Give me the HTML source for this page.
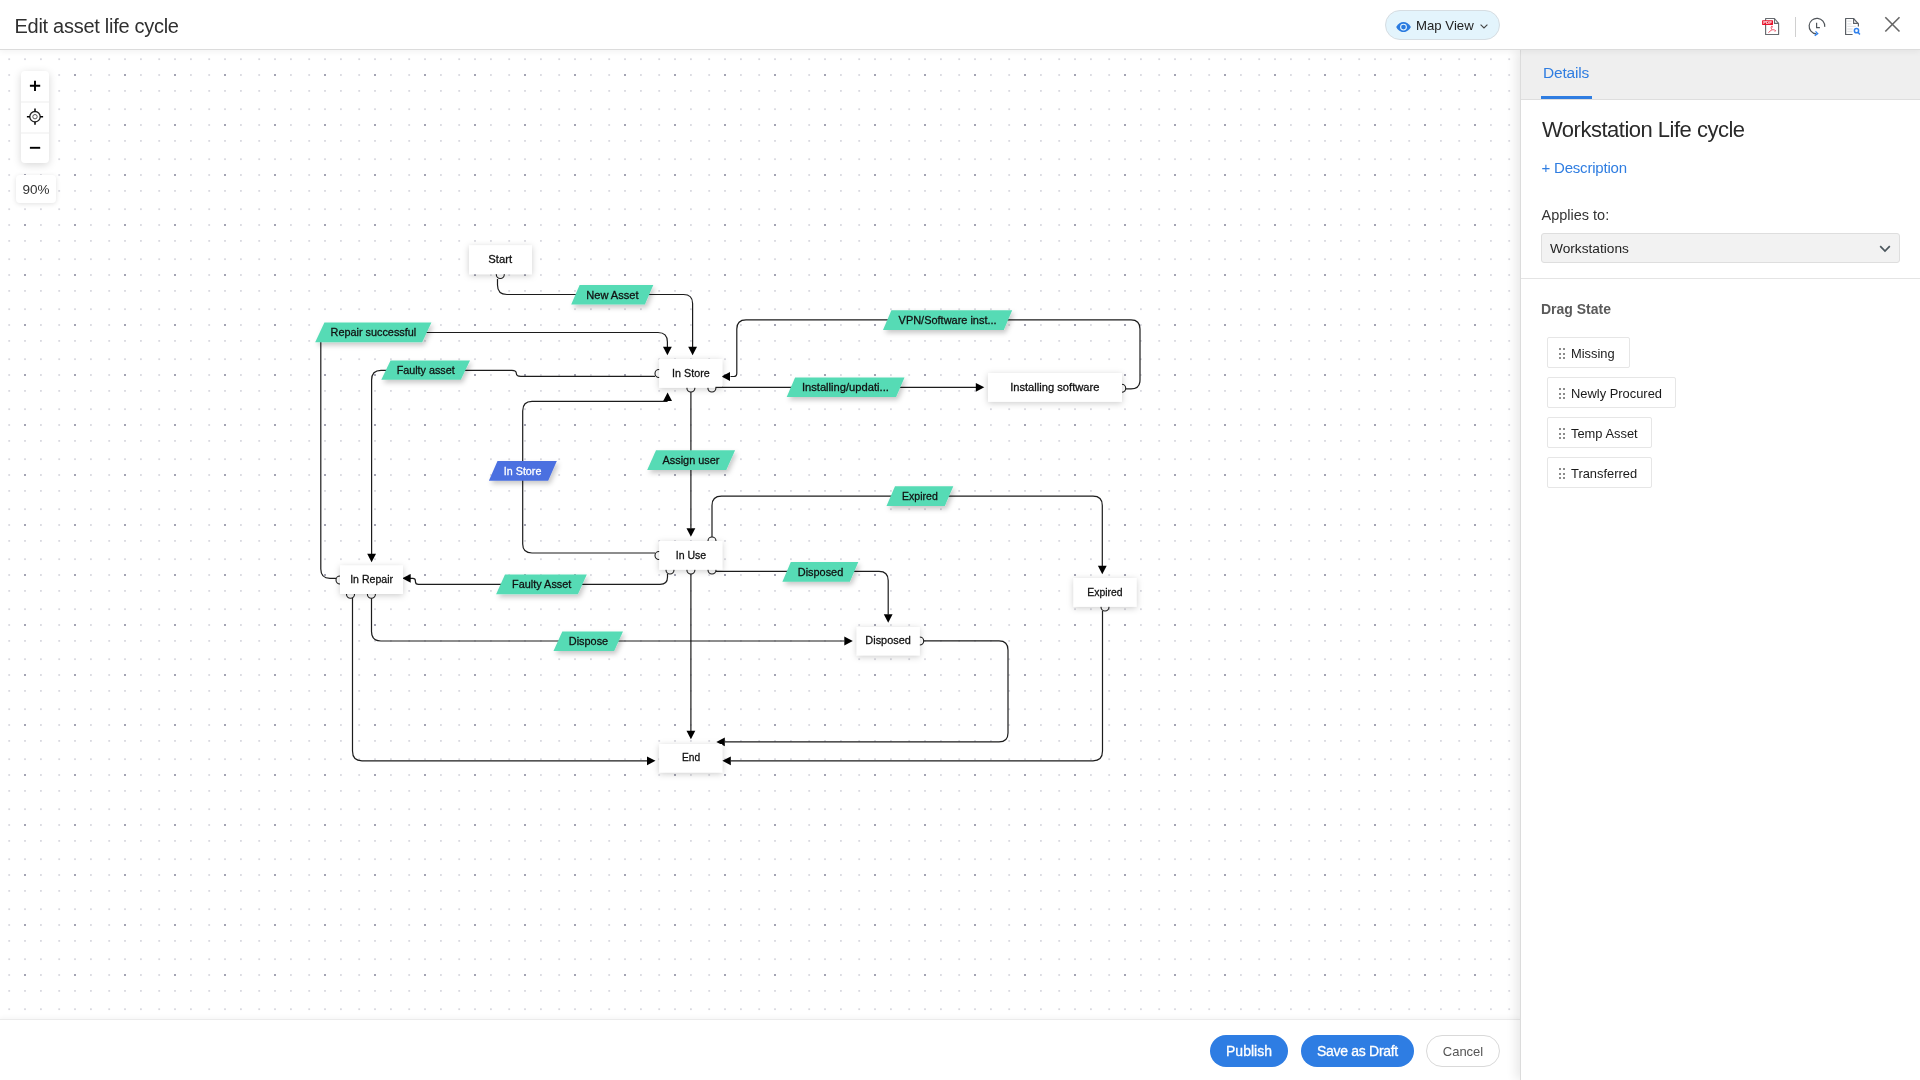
<!DOCTYPE html><html><head><meta charset="utf-8"><title>Edit asset life cycle</title><style>
*{margin:0;padding:0;box-sizing:border-box}
html,body{width:1920px;height:1080px;overflow:hidden;background:#fff;font-family:"Liberation Sans",sans-serif;color:#333}
.abs{position:absolute}
#header{position:absolute;left:0;top:0;width:1920px;height:50px;background:#fff;border-bottom:1px solid #dcdcdc;z-index:5;box-shadow:0 2px 6px rgba(0,0,0,0.05)}
#title{position:absolute;left:14.5px;top:11.5px;font-size:20px;letter-spacing:-0.28px;color:#303030;line-height:28px;white-space:nowrap}
#mapview{position:absolute;left:1385px;top:10px;width:115px;height:30px;border-radius:15px;background:#e3f4fc;border:1px solid #d6dde2}
#mapview span{position:absolute;left:30px;top:7px;font-size:13.2px;color:#222;line-height:16px;white-space:nowrap}
#canvas{position:absolute;left:0;top:50px;width:1520px;height:969px;overflow:hidden}
#canvas svg.grid{position:absolute;left:0;top:-50px}
.dg{position:absolute;left:0;top:-50px;will-change:transform}
#footer{position:absolute;left:0;top:1019px;width:1520px;height:61px;background:#fff;border-top:1px solid #ebebeb;box-shadow:0 -2px 4px rgba(0,0,0,0.035)}
.btn{position:absolute;top:15px;height:32px;border-radius:16px;font-size:13px;line-height:32px;text-align:center;white-space:nowrap}
.btn.pri{background:#2e7de3;color:#fff;font-size:14px;line-height:33px;-webkit-text-stroke:0.3px #fff}
.btn.sec{background:#fff;border:1px solid #d9d9d9;color:#555;font-size:13px;line-height:31.5px}
#panel{position:absolute;left:1520px;top:50px;width:400px;height:1030px;background:#fff;border-left:1px solid #dcdcdc;box-shadow:-4px 0 10px rgba(0,0,0,0.09);z-index:4}
#tabs{position:absolute;left:0;top:0;width:400px;height:50px;background:#efefef;border-bottom:1px solid #dedede}
#tabs .t{position:absolute;left:22px;top:13px;font-size:15.5px;color:#2f7de1;line-height:20px;letter-spacing:-0.2px}
#tabs .u{position:absolute;left:20px;top:46px;width:51px;height:3px;background:#2f7de1}
#zoomctl{position:absolute;left:21px;top:21px;width:28px;height:92px;background:#fff;border-radius:4px;box-shadow:0 2px 9px rgba(0,0,0,0.16)}
#zoompct{position:absolute;left:16px;top:125px;width:40px;height:28px;background:#fff;border-radius:4px;box-shadow:0 1px 5px rgba(0,0,0,0.12);font-size:13.5px;line-height:30px;text-align:center;color:#333}
.ds{position:absolute;left:25.5px;height:31px;border:1.5px solid #e6e6e6;border-radius:2px;background:#fff}
.ds .h{position:absolute;left:11px;top:10px;width:6px;height:11px}
.ds span{position:absolute;left:23.5px;top:8px;font-size:12.9px;line-height:15px;color:#1a1a1a;white-space:nowrap}
</style></head><body>
<div id="canvas"><svg class="grid" width="1520" height="1080"><defs><pattern id="dots" x="0" y="0" width="50" height="50" patternUnits="userSpaceOnUse"><g fill="#d8d8df"><rect x="8.3" y="8.3" width="1.8" height="1.8"/><rect x="24.1" y="8.3" width="1.8" height="1.8"/><rect x="40" y="8.3" width="1.8" height="1.8"/><rect x="8.3" y="24.1" width="1.8" height="1.8"/><rect x="40" y="24.1" width="1.8" height="1.8"/><rect x="8.3" y="40" width="1.8" height="1.8"/><rect x="24.1" y="40" width="1.8" height="1.8"/><rect x="40" y="40" width="1.8" height="1.8"/></g><rect x="24" y="24" width="2" height="2" fill="#a4a4b3"/></pattern></defs><rect width="1520" height="1080" fill="url(#dots)"/></svg><svg class="dg" width="1520" height="1080" viewBox="0 0 1520 1080">
<defs><filter id="ns" x="-30%" y="-40%" width="160%" height="190%"><feDropShadow dx="0" dy="1.5" stdDeviation="3.2" flood-color="#000" flood-opacity="0.2"/></filter><filter id="ls" x="-20%" y="-40%" width="150%" height="200%"><feDropShadow dx="2" dy="3" stdDeviation="2.5" flood-color="#000" flood-opacity="0.22"/></filter></defs>
<g fill="none" stroke="#1c1c1c" stroke-width="1.2">
<path d="M497.5 279 V285 Q497.5 294.5 507 294.5 H683.5 Q692.6 294.5 692.6 303.5 V347"/>
<path d="M336 578.3 H330 Q320.8 578.3 320.8 569 V342 Q320.8 332.5 330 332.5 H658 Q667.4 332.5 667.4 342 V347"/>
<path d="M655 376.4 H520.8 Q516.3 376.4 516.3 373.3 Q516.3 370.3 511.9 370.3 H381 Q371.6 370.3 371.6 380 V554"/>
<path d="M715 387.3 H976"/>
<path d="M1125.5 388.9 H1131 Q1140 388.9 1140 380 V329 Q1140 319.8 1131 319.8 H746 Q736.8 319.8 736.8 329 V373.2 Q736.8 376.5 733.6 376.5 H730.5"/>
<path d="M690.9 392 V528.5"/>
<path d="M655 553 H532 Q522.7 553 522.7 544 V411 Q522.7 401.4 532 401.4 H667.6"/>
<path d="M712 537 V505.5 Q712 496.2 721.5 496.2 H1093 Q1102.3 496.2 1102.3 505.5 V566"/>
<path d="M667.5 574 V577 Q667.5 584.4 660 584.4 H418.5 Q415.4 584.4 415.4 581.5 V581 Q415.4 578.3 412.8 578.3 H410"/>
<path d="M716 571.3 H879 Q888.2 571.3 888.2 580.5 V614.5"/>
<path d="M690.9 574 V731"/>
<path d="M371.5 598 V631.5 Q371.5 641 381 641 H844.5"/>
<path d="M352.5 598 V751 Q352.5 760.8 362 760.8 H647"/>
<path d="M923.5 640.9 H999 Q1008 640.9 1008 650 V733 Q1008 741.9 999 741.9 H724.8"/>
<path d="M1102.5 611 V751 Q1102.5 760.8 1093 760.8 H730.8"/>
</g>
<polygon points="692.6,355.2 688.2,346.7 697.0,346.7" fill="#000"/>
<polygon points="667.4,355.2 663.0,346.7 671.8,346.7" fill="#000"/>
<polygon points="371.6,562.2 367.2,553.7 376.0,553.7" fill="#000"/>
<polygon points="984.3,387.3 975.8,382.9 975.8,391.7" fill="#000"/>
<polygon points="721.5,376.5 730.0,372.1 730.0,380.9" fill="#000"/>
<polygon points="690.9,536.8 686.5,528.3 695.3,528.3" fill="#000"/>
<polygon points="667.6,392.6 663.2,401.1 672.0,401.1" fill="#000"/>
<polygon points="1102.3,574.2 1097.9,565.7 1106.7,565.7" fill="#000"/>
<polygon points="402.2,578.3 410.7,573.9 410.7,582.7" fill="#000"/>
<polygon points="888.2,622.7 883.8,614.2 892.6,614.2" fill="#000"/>
<polygon points="690.9,739.3 686.5,730.8 695.3,730.8" fill="#000"/>
<polygon points="852.8,641.0 844.3,636.6 844.3,645.4" fill="#000"/>
<polygon points="655.5,760.8 647.0,756.4 647.0,765.2" fill="#000"/>
<polygon points="716.3,741.9 724.8,737.5 724.8,746.3" fill="#000"/>
<polygon points="722.3,760.8 730.8,756.4 730.8,765.2" fill="#000"/>
<g fill="#fff" stroke="#1c1c1c" stroke-width="1.1">
<circle cx="500.3" cy="274.5" r="4"/>
<circle cx="659.0" cy="373.5" r="4"/>
<circle cx="690.9" cy="388.0" r="4"/>
<circle cx="711.9" cy="388.0" r="4"/>
<circle cx="1121.7" cy="388.3" r="4"/>
<circle cx="659.0" cy="555.5" r="4"/>
<circle cx="712.0" cy="541.0" r="4"/>
<circle cx="670.0" cy="570.0" r="4"/>
<circle cx="690.9" cy="570.0" r="4"/>
<circle cx="712.0" cy="570.0" r="4"/>
<circle cx="340.0" cy="580.0" r="4"/>
<circle cx="350.5" cy="594.2" r="4"/>
<circle cx="371.4" cy="594.2" r="4"/>
<circle cx="1105.0" cy="607.0" r="4"/>
<circle cx="919.7" cy="641.0" r="4"/>
</g>
<rect x="469.0" y="245.3" width="63.0" height="28.8" fill="#fff" filter="url(#ns)"/>
<rect x="659.2" y="359.0" width="63.0" height="28.8" fill="#fff" filter="url(#ns)"/>
<rect x="988.0" y="373.0" width="134.0" height="28.8" fill="#fff" filter="url(#ns)"/>
<rect x="659.2" y="541.0" width="63.0" height="28.8" fill="#fff" filter="url(#ns)"/>
<rect x="340.0" y="565.5" width="63.0" height="28.5" fill="#fff" filter="url(#ns)"/>
<rect x="1073.5" y="578.0" width="63.0" height="28.8" fill="#fff" filter="url(#ns)"/>
<rect x="856.8" y="627.0" width="63.0" height="28.3" fill="#fff" filter="url(#ns)"/>
<rect x="659.2" y="744.0" width="63.0" height="28.5" fill="#fff" filter="url(#ns)"/>
<g font-family='&quot;Liberation Sans&quot;, sans-serif' font-size="10.8" fill="#111" stroke="#111" stroke-width="0.28" text-anchor="middle">
<text x="500.2" y="263.0" textLength="23.8" lengthAdjust="spacingAndGlyphs">Start</text>
<text x="690.9" y="377.0" textLength="37.6" lengthAdjust="spacingAndGlyphs">In Store</text>
<text x="1054.8" y="391.0" textLength="89.3" lengthAdjust="spacingAndGlyphs">Installing software</text>
<text x="691.0" y="558.8" textLength="30.5" lengthAdjust="spacingAndGlyphs">In Use</text>
<text x="371.6" y="583.0" textLength="42.8" lengthAdjust="spacingAndGlyphs">In Repair</text>
<text x="1105.0" y="595.6" textLength="35.3" lengthAdjust="spacingAndGlyphs">Expired</text>
<text x="888.1" y="644.0" textLength="45.5" lengthAdjust="spacingAndGlyphs">Disposed</text>
<text x="691.1" y="760.6" textLength="18.2" lengthAdjust="spacingAndGlyphs">End</text>
</g>
<path d="M715.4 387.4 H723" stroke="#1c1c1c" stroke-width="1.2" fill="none"/>
<polygon points="579.6,285.1 653.3,285.1 644.9,304.6 571.2,304.6" fill="#56dbb5" filter="url(#ls)"/>
<polygon points="324.4,322.6 431.4,322.6 422.2,342.3 315.2,342.3" fill="#56dbb5" filter="url(#ls)"/>
<polygon points="390.5,360.4 470.0,360.4 460.8,379.8 381.3,379.8" fill="#56dbb5" filter="url(#ls)"/>
<polygon points="891.4,310.2 1012.2,310.2 1003.8,329.9 883.0,329.9" fill="#56dbb5" filter="url(#ls)"/>
<polygon points="795.1,377.6 904.5,377.6 896.1,397.1 786.7,397.1" fill="#56dbb5" filter="url(#ls)"/>
<polygon points="497.5,461.0 556.8,461.0 548.2,480.7 488.9,480.7" fill="#4b6fe0" filter="url(#ls)"/>
<polygon points="656.0,450.2 735.1,450.2 726.3,469.9 647.2,469.9" fill="#56dbb5" filter="url(#ls)"/>
<polygon points="895.0,486.3 953.3,486.3 944.8,505.9 886.5,505.9" fill="#56dbb5" filter="url(#ls)"/>
<polygon points="790.8,562.0 858.3,562.0 849.9,581.7 782.4,581.7" fill="#56dbb5" filter="url(#ls)"/>
<polygon points="505.0,574.6 586.8,574.6 577.9,594.2 496.1,594.2" fill="#56dbb5" filter="url(#ls)"/>
<polygon points="562.3,631.4 623.0,631.4 614.2,651.0 553.5,651.0" fill="#56dbb5" filter="url(#ls)"/>
<g font-family='&quot;Liberation Sans&quot;, sans-serif' font-size="10.8" text-anchor="middle">
<text x="612.4" y="298.7" fill="#111" stroke="#111" stroke-width="0.28" textLength="52.3" lengthAdjust="spacingAndGlyphs">New Asset</text>
<text x="373.4" y="336.3" fill="#111" stroke="#111" stroke-width="0.28" textLength="85.7" lengthAdjust="spacingAndGlyphs">Repair successful</text>
<text x="425.7" y="373.9" fill="#111" stroke="#111" stroke-width="0.28" textLength="58.1" lengthAdjust="spacingAndGlyphs">Faulty asset</text>
<text x="947.6" y="323.8" fill="#111" stroke="#111" stroke-width="0.28" textLength="98.0" lengthAdjust="spacingAndGlyphs">VPN/Software inst...</text>
<text x="845.4" y="391.2" fill="#111" stroke="#111" stroke-width="0.28" textLength="87.0" lengthAdjust="spacingAndGlyphs">Installing/updati...</text>
<text x="522.6" y="474.7" fill="#fff" stroke="#fff" stroke-width="0.28" textLength="37.5" lengthAdjust="spacingAndGlyphs">In Store</text>
<text x="691.0" y="463.8" fill="#111" stroke="#111" stroke-width="0.28" textLength="57.0" lengthAdjust="spacingAndGlyphs">Assign user</text>
<text x="919.9" y="499.9" fill="#111" stroke="#111" stroke-width="0.28" textLength="35.7" lengthAdjust="spacingAndGlyphs">Expired</text>
<text x="820.5" y="575.6" fill="#111" stroke="#111" stroke-width="0.28" textLength="45.5" lengthAdjust="spacingAndGlyphs">Disposed</text>
<text x="541.7" y="588.2" fill="#111" stroke="#111" stroke-width="0.28" textLength="59.3" lengthAdjust="spacingAndGlyphs">Faulty Asset</text>
<text x="588.5" y="645.0" fill="#111" stroke="#111" stroke-width="0.28" textLength="39.4" lengthAdjust="spacingAndGlyphs">Dispose</text>
</g>
</svg>
<div id="zoomctl"><svg width="28" height="92" viewBox="0 0 28 92"><path d="M14 9.7 V20 M8.9 14.8 H19.2" stroke="#000" stroke-width="1.9"/><rect x="0" y="30.5" width="28" height="1" fill="#eee"/><circle cx="14" cy="45.7" r="5.2" fill="none" stroke="#222" stroke-width="1.3"/><circle cx="14" cy="45.7" r="2.2" fill="none" stroke="#444" stroke-width="0.9"/><path d="M14 37.6 V40.6 M14 50.8 V53.8 M5.9 45.7 H8.9 M19.1 45.7 H22.1" stroke="#000" stroke-width="1.5"/><rect x="0" y="61.5" width="28" height="1" fill="#eee"/><path d="M8.9 76.8 H19.2" stroke="#000" stroke-width="1.9"/></svg></div>
<div id="zoompct">90%</div>
</div>
<div id="header"><div id="title">Edit asset life cycle</div><div id="mapview"><svg class="abs" style="left:9.9px;top:10.8px" width="15.2" height="10.4" viewBox="0 0 15.2 10.4"><path d="M0.2 5.1 C2 1.6 4.8 0 7.5 0 C10.2 0 13 1.6 14.9 5.1 C13 8.6 10.2 10.2 7.5 10.2 C4.8 10.2 2 8.6 0.2 5.1 Z" fill="#2a7be0"/><circle cx="7.5" cy="5.1" r="2.9" fill="none" stroke="#e3f4fc" stroke-width="1.1"/><circle cx="7.5" cy="5.1" r="1.5" fill="#2a7be0"/></svg><span>Map View</span><svg class="abs" style="left:94px;top:13px" width="8" height="5" viewBox="0 0 8 5"><path d="M0.6 0.6 L4 4 L7.4 0.6" fill="none" stroke="#444" stroke-width="1.1"/></svg></div>
<svg class="abs" style="left:1758px;top:14px" width="150" height="26" viewBox="1758 14 150 26">
 <path d="M1765.6 18.5 H1774.4 L1778.6 23.4 V34.5 H1765.6 Z" fill="#fff" stroke="#676b70" stroke-width="1.15" stroke-linejoin="round"/>
 <path d="M1774.5 18.5 V23.4 H1778.6" fill="none" stroke="#676b70" stroke-width="1.1"/>
 <rect x="1762.1" y="20.2" width="10.9" height="4.7" rx="0.5" fill="#e8132c"/>
 <text x="1767.5" y="24.0" font-size="4.3" font-family="Liberation Sans" font-weight="bold" fill="#fff" text-anchor="middle">PDF</text>
 <path d="M1768.5 32.8 Q1770 30.6 1772 29.8 Q1774.5 29.2 1775.5 30.8 M1775.8 30.2 L1774.8 31.6 M1771.8 29.6 Q1770.4 27.6 1771.6 26.2 Q1772.8 25.6 1772.2 27.6" fill="none" stroke="#ec4a60" stroke-width="0.9"/>
 <rect x="1795" y="17" width="1" height="20" fill="#d0d0d0"/>
 <path d="M1824.7 26.9 A7.8 7.8 0 1 0 1816.2 33.9" fill="none" stroke="#50555a" stroke-width="1.2"/>
 <path d="M1816.6 22.8 V27.6 H1819.9" fill="none" stroke="#50555a" stroke-width="1.2"/>
 <path d="M1815.5 31.4 L1817.7 33.6 L1814.7 35.6" fill="none" stroke="#2f80ed" stroke-width="1.3"/>
 <g stroke="#e3e5e8" stroke-width="1.3"><path d="M1847.3 21.2 H1851.6 M1847.3 23.8 H1851.6 M1847.3 26.4 H1855.8 M1847.3 29 H1852.6 M1847.3 31.5 H1852.4"/></g>
 <path d="M1852.6 34.5 H1845.6 V18.5 H1853.5 L1858.4 23.8 V26.5" fill="none" stroke="#5b6066" stroke-width="1.2" stroke-linejoin="round"/>
 <path d="M1853.6 18.5 V23.4 H1858.4" fill="none" stroke="#5b6066" stroke-width="1.1"/>
 <circle cx="1856.5" cy="30.7" r="2.1" fill="none" stroke="#2f80ed" stroke-width="1.5"/>
 <path d="M1858 32.3 L1859.9 34.5" stroke="#2f80ed" stroke-width="1.5"/>
 <path d="M1885.3 17.3 L1899.5 31.5 M1899.5 17.3 L1885.3 31.5" stroke="#666" stroke-width="1.6"/>
</svg>
</div>
<div id="footer"><div class="btn pri" style="left:1210px;width:78px;letter-spacing:0px">Publish</div><div class="btn pri" style="left:1301px;width:113px;letter-spacing:-0.3px">Save as Draft</div><div class="btn sec" style="left:1426px;width:74px">Cancel</div></div>
<div id="panel"><div id="tabs"><div class="t">Details</div><div class="u"></div></div>
<div class="abs" style="left:21px;top:67px;font-size:22px;letter-spacing:-0.5px;color:#2a2a2a;line-height:26px;white-space:nowrap">Workstation Life cycle</div>
<div class="abs" style="left:20.5px;top:108.5px;font-size:15px;letter-spacing:-0.2px;color:#2f7de1;line-height:18px;white-space:nowrap">+ Description</div>
<div class="abs" style="left:20.5px;top:155.5px;font-size:14.5px;color:#333;line-height:18px;white-space:nowrap">Applies to:</div>
<div class="abs" style="left:20px;top:183px;width:359px;height:30px;background:#f2f2f2;border:1px solid #dedede;border-radius:3px"><span class="abs" style="left:8px;top:6px;font-size:13.7px;color:#222;line-height:17px">Workstations</span><svg class="abs" style="left:337px;top:11px" width="12" height="8" viewBox="0 0 12 8"><path d="M1.2 1.2 L6 6 L10.8 1.2" fill="none" stroke="#4a555c" stroke-width="1.7"/></svg></div>
<div class="abs" style="left:0;top:228px;width:400px;height:1px;background:#e4e4e4"></div>
<div class="abs" style="left:20px;top:251px;font-size:14px;font-weight:bold;color:#5a5a5a;line-height:17px;white-space:nowrap">Drag State</div>
<div class="ds" style="top:287px;width:83px"><svg class="h" viewBox="0 0 6 11"><rect x="0" y="0" width="2" height="2" fill="#8c8c8c"/><rect x="0" y="5" width="2" height="2" fill="#8c8c8c"/><rect x="0" y="9" width="2" height="2" fill="#8c8c8c"/><rect x="4" y="0" width="2" height="2" fill="#8c8c8c"/><rect x="4" y="5" width="2" height="2" fill="#8c8c8c"/><rect x="4" y="9" width="2" height="2" fill="#8c8c8c"/></svg><span>Missing</span></div>
<div class="ds" style="top:327px;width:129px"><svg class="h" viewBox="0 0 6 11"><rect x="0" y="0" width="2" height="2" fill="#8c8c8c"/><rect x="0" y="5" width="2" height="2" fill="#8c8c8c"/><rect x="0" y="9" width="2" height="2" fill="#8c8c8c"/><rect x="4" y="0" width="2" height="2" fill="#8c8c8c"/><rect x="4" y="5" width="2" height="2" fill="#8c8c8c"/><rect x="4" y="9" width="2" height="2" fill="#8c8c8c"/></svg><span>Newly Procured</span></div>
<div class="ds" style="top:367px;width:105px"><svg class="h" viewBox="0 0 6 11"><rect x="0" y="0" width="2" height="2" fill="#8c8c8c"/><rect x="0" y="5" width="2" height="2" fill="#8c8c8c"/><rect x="0" y="9" width="2" height="2" fill="#8c8c8c"/><rect x="4" y="0" width="2" height="2" fill="#8c8c8c"/><rect x="4" y="5" width="2" height="2" fill="#8c8c8c"/><rect x="4" y="9" width="2" height="2" fill="#8c8c8c"/></svg><span>Temp Asset</span></div>
<div class="ds" style="top:407px;width:105px"><svg class="h" viewBox="0 0 6 11"><rect x="0" y="0" width="2" height="2" fill="#8c8c8c"/><rect x="0" y="5" width="2" height="2" fill="#8c8c8c"/><rect x="0" y="9" width="2" height="2" fill="#8c8c8c"/><rect x="4" y="0" width="2" height="2" fill="#8c8c8c"/><rect x="4" y="5" width="2" height="2" fill="#8c8c8c"/><rect x="4" y="9" width="2" height="2" fill="#8c8c8c"/></svg><span>Transferred</span></div>
</div>
</body></html>
